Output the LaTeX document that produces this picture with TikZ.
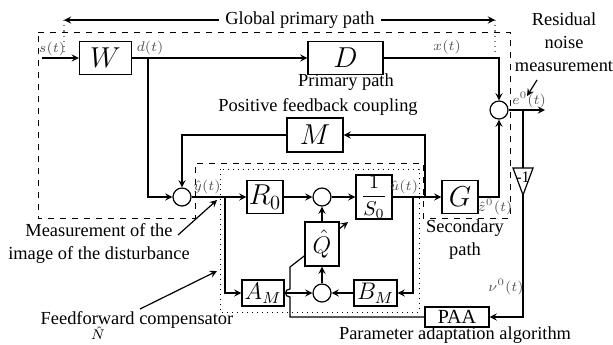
\documentclass[tikz,border=0pt]{standalone}
\usepackage[no-math]{fontspec}
\setmainfont{Liberation Serif}
\usepackage{amsmath}
\usetikzlibrary{positioning}
\tikzstyle{diagram} = [x = 0.5pt, y = -0.5pt, >=stealth, line width = .6pt, font=\fontsize{9.2}{11.5}\selectfont]
\definecolor{signalColor}{RGB}{85,85,85}
\tikzstyle{blockStyle} = [draw, fill=white, inner sep=0pt, font=\Large]
\tikzstyle{smallBlockStyle} = [blockStyle, font=\large]
\tikzstyle{sumStyle} = [draw, fill=white, circle, inner sep=0pt, minimum size=9pt]
\tikzstyle{signalText} = [font=\scriptsize, text=signalColor, inner sep=1pt]
\tikzstyle{noteText} = [align=center, inner sep=0pt]
\tikzstyle{outlineStyle} = [dashed, line width=.5pt]
\tikzstyle{compensatorStyle} = [dotted, line width=.5pt]
\tikzstyle{boundaryStyle} = [dotted, color=gray]
\newcommand{\block}[5]{\node [blockStyle, minimum width = #3 * 0.5pt, minimum height = #4 * 0.5pt] (#1) at (#2) {$#5$};}
\newcommand{\smallBlock}[5]{\node [smallBlockStyle, minimum width = #3 * 0.5pt, minimum height = #4 * 0.5pt] (#1) at (#2) {$#5$};}
\newcommand{\sumPoint}[2]{\node [sumStyle] (#1) at (#2) {};}

\begin{document}
\begin{tikzpicture}[diagram]
  \useasboundingbox (0,0) rectangle (613,344);

  % outlines of the paths
  \draw [outlineStyle] (38,32) -- (510,32) -- (510,218) -- (423,218) -- (423,163) -- (195,163) -- (195,218) -- (38,218) -- cycle;
  \draw [compensatorStyle] (220,169) rectangle (419,312);
  \draw [boundaryStyle] (64,20) -- (64,55);
  \draw [boundaryStyle] (495,20) -- (495,55);
  \coordinate (globalLeft) at (64,20);
  \coordinate (globalRight) at (495,20);
  \draw [<->] (globalLeft) -- (globalRight);
  \node [noteText, fill=white, inner xsep=3pt] (globalNote) at (300,20) {Global primary path};

  % blocks
  \block{W}{105.5,58}{52}{33}{W}
  \block{D}{345.5,58}{75}{33}{D}
  \block{M}{315,135}{56}{34}{M}
  \block{G}{460,197}{36}{33}{G}
  \block{R}{265,197}{36}{33}{R_0}
  \node [blockStyle, font=\normalsize, minimum width = 18pt, minimum height = 22pt] (invS) at (374,197) {$\dfrac{1}{S_0}$};
  \smallBlock{aM}{263,293}{42}{26}{A_M}
  \smallBlock{bM}{375.5,293}{43}{26}{B_M}
  \node [blockStyle, font=\normalsize, minimum width = 32pt, minimum height = 10pt] (paa) at (457,317) {PAA};
  \sumPoint{sumIn}{182,197}
  \sumPoint{sumMid}{322,197}
  \sumPoint{sumLow}{322,293}
  \sumPoint{sumOut}{499,110}

  % adaptation of Q
  \coordinate (hopLow) at (290,297);
  \coordinate (hopHigh) at (290,289);
  \coordinate (adaptStart) at (290,267);
  \coordinate (adaptTip) at (348,222);
  \draw [->] (paa) -| (hopLow) .. controls (284,297) and (284,289) .. (hopHigh) -- (adaptStart) -- (adaptTip);
  \smallBlock{Q}{322,244}{34}{44}{\hat{Q}}

  % gain -1
  \coordinate (gainTop) at (523,168);
  \coordinate (gainTip) at (523,195);
  \draw (513,168) -- (533,168) -- (gainTip) -- cycle;
  \node [font=\footnotesize, inner sep=0pt] (gain) at (523,177) {-1};

  % signals
  \coordinate (sIn) at (42,58);
  \coordinate (dBranch) at (148,58);
  \coordinate (yBranch) at (225,197);
  \coordinate (uDown) at (413,197);
  \coordinate (uUp) at (425,197);
  \coordinate (eBranch) at (523,110);
  \coordinate (eOut) at (545,110);
  \draw [->] (sIn) -- (W);
  \draw [->] (W) -- (D);
  \draw [->] (dBranch) |- (sumIn);
  \draw [->] (D) -| (sumOut);
  \draw [->] (G) -| (sumOut);
  \draw [->] (sumOut) -- (eOut);
  \draw [->] (uUp) |- (M);
  \draw [->] (M) -| (sumIn);
  \draw [->] (sumIn) -- (R);
  \draw [->] (yBranch) |- (aM);
  \draw [->] (R) -- (sumMid);
  \draw [->] (sumMid) -- (invS);
  \draw [->] (Q) -- (sumMid);
  \draw [->] (sumLow) -- (Q);
  \draw [->] (aM) -- (sumLow);
  \draw [->] (bM) -- (sumLow);
  \draw [->] (invS) -- (G);
  \draw [->] (uDown) |- (bM);
  \draw (eBranch) -- (gainTop);
  \draw [->] (gainTip) |- (paa);

  % signal names
  \node [signalText] (sLabel) at (52,49) {$s(t)$};
  \node [signalText] (dLabel) at (150,48) {$d(t)$};
  \node [signalText] (xLabel) at (447,47) {$x(t)$};
  \node [signalText] (eLabel) at (529,100) {$e^0(t)$};
  \node [signalText] (yLabel) at (207,187) {$\hat{y}(t)$};
  \node [signalText] (uLabel) at (404,187) {$\hat{u}(t)$};
  \node [signalText] (zLabel) at (495,207) {$\hat{z}^0(t)$};
  \node [signalText] (nuLabel) at (506,287) {$\nu^0(t)$};

  % notes
  \node [noteText] (primaryNote) at (346,82) {Primary path};
  \node [noteText] (couplingNote) at (318,107) {Positive feedback coupling};
  \node [noteText] (secondaryNote) at (465,240) {Secondary\\path};
  \node [noteText] (residualNote) at (564,42) {Residual\\noise\\measurement};
  \node [noteText] (measureNote) at (99,243) {Measurement of the\\image of the disturbance};
  \node [noteText] (feedforwardNote) at (137,320) {Feedforward compensator};
  \node [signalText, text=black] (nLabel) at (98,333) {$\hat{N}$};
  \node [noteText] (paaNote) at (455,335) {Parameter adaptation algorithm};
  \coordinate (residualTail) at (537,80);
  \coordinate (residualTip) at (527,96);
  \coordinate (measureTail) at (178,235);
  \coordinate (measureTip) at (217,200);
  \coordinate (feedforwardTail) at (140,309);
  \coordinate (feedforwardTip) at (217,271);
  \draw [->] (residualTail) -- (residualTip);
  \draw [->] (measureTail) -- (measureTip);
  \draw [->] (feedforwardTail) -- (feedforwardTip);
\end{tikzpicture}
\end{document}
